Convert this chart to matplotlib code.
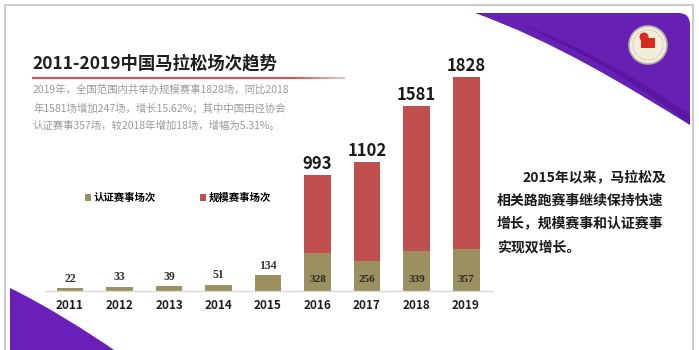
import numpy as np
import matplotlib
matplotlib.use('Agg')
import matplotlib.pyplot as plt
from matplotlib.patches import PathPatch, Circle, Rectangle
from matplotlib.path import Path
from matplotlib.collections import LineCollection

plt.rcParams['font.family'] = ['Noto Sans CJK SC', 'DejaVu Sans']

# data
years = ['2011', '2012', '2013', '2014', '2015', '2016', '2017', '2018', '2019']
certified = [22, 33, 39, 51, 134, 328, 256, 339, 357]
scale_total = [0, 0, 0, 0, 0, 993, 1102, 1581, 1828]
series_names = ['认证赛事场次', '规模赛事场次']

title = '2011-2019中国马拉松场次趋势'
intro_lines = ['2019年，全国范围内共举办规模赛事1828场，同比2018',
               '年1581场增加247场，增长15.62%；其中中国田径协会',
               '认证赛事357场，较2018年增加18场，增幅为5.31%。']
note_lines = ['2015年以来，马拉松及',
              '相关路跑赛事继续保持快速',
              '增长，规模赛事和认证赛事',
              '实现双增长。']

OLIVE = '#9b9060'
RED = '#c0504d'
W, H = 699, 350

fig = plt.figure(figsize=(W / 100, H / 100), dpi=100, facecolor='white')

# slide background and decorations, in pixel coords
bg = fig.add_axes([0, 0, 1, 1])
bg.set_xlim(0, W)
bg.set_ylim(H, 0)
bg.axis('off')

bg.add_patch(Rectangle((5, 5), 688, 360, facecolor='white', edgecolor='#cccccc', lw=1.5))

# top-right purple swoosh
verts = [(475, 13), (678, 13), (690, 13), (690, 25), (690, 125),
         (625, 85), (555, 42), (475, 13)]
codes = [Path.MOVETO, Path.LINETO, Path.CURVE3, Path.CURVE3, Path.LINETO,
         Path.CURVE4, Path.CURVE4, Path.CURVE4]
bg.add_patch(PathPatch(Path(verts, codes), facecolor='#6620b4', edgecolor='none'))
verts2 = [(520, 24), (600, 60), (660, 100), (690, 125), (690, 115), (640, 80), (580, 45), (520, 24)]
codes2 = [Path.MOVETO, Path.CURVE4, Path.CURVE4, Path.CURVE4,
          Path.LINETO, Path.CURVE4, Path.CURVE4, Path.CURVE4]
bg.add_patch(PathPatch(Path(verts2, codes2), facecolor='#520f96', edgecolor='none', alpha=0.6))

# logo
bg.add_patch(Circle((648, 45), 19, facecolor='#f2eedc', edgecolor='#b8b0a0', lw=1.2))
bg.add_patch(Circle((648, 45), 15, facecolor='none', edgecolor='#9a9a8a', lw=0.6, ls=':'))
bg.add_patch(Rectangle((641, 38), 14, 10, facecolor='#d9291f', edgecolor='none'))
bg.add_patch(Circle((644, 37), 4.5, facecolor='#d9291f', edgecolor='none'))

# bottom-left purple wedge
verts3 = [(10, 288), (45, 305), (85, 330), (117, 352), (10, 352), (10, 288)]
codes3 = [Path.MOVETO, Path.CURVE4, Path.CURVE4, Path.CURVE4, Path.LINETO, Path.CLOSEPOLY]
bg.add_patch(PathPatch(Path(verts3, codes3), facecolor='#6a1fb8', edgecolor='none'))

# header
bg.text(32, 63, title, fontsize=12.5, weight='bold', color='#1e1e1e', ha='left', va='center')
xs = np.linspace(32, 345, 40)
segs = [[(xs[k], 78), (xs[k + 1], 78)] for k in range(len(xs) - 1)]
red_rgb = np.array([0.76, 0.36, 0.36])
cols = []
for k in range(len(xs) - 1):
    f = 0.0 if xs[k] < 290 else (xs[k] - 290) / 55
    cols.append(tuple(red_rgb * (1 - f) + np.array([0.85, 0.85, 0.85]) * f))
bg.add_collection(LineCollection(segs, colors=cols, linewidths=1.6, capstyle='butt'))
for k, line in enumerate(intro_lines):
    bg.text(33, 90 + 18 * k, line, fontsize=7.5, color='#9a9a9a', ha='left', va='center')

# right note
for k, line in enumerate(note_lines):
    bg.text(522 if k == 0 else 497, 177 + 23.5 * k, line, fontsize=10, weight='bold',
            color='#1a1a1a', ha='left', va='center')

# chart
ax = fig.add_axes([45 / W, 59 / H, 447 / W, 231 / H])
ax.patch.set_alpha(0)
x = np.arange(len(years))
red_part = [t - c if t > 0 else 0 for t, c in zip(scale_total, certified)]
b1 = ax.bar(x, certified, width=0.545, color=OLIVE, zorder=2)
b2 = ax.bar(x, red_part, bottom=certified, width=0.545, color=RED, zorder=2)

for i in range(len(years)):
    if scale_total[i] > 0:
        ax.annotate(str(scale_total[i]), (x[i], scale_total[i]), xytext=(0, 1.5),
                    textcoords='offset points', ha='center', va='bottom',
                    fontsize=12, weight='bold', color='#1a1a1a')
        ax.annotate(str(certified[i]), (x[i], 0), xytext=(0, 8),
                    textcoords='offset points', ha='center', va='center',
                    fontsize=8, weight='bold', family='Liberation Serif', color='#2a2a20')
    else:
        ax.annotate(str(certified[i]), (x[i], certified[i]), xytext=(0, 7),
                    textcoords='offset points', ha='center', va='center',
                    fontsize=8.5, weight='bold', family='Liberation Serif', color='#333333')

ax.set_xlim(-0.505, 8.525)
ax.set_ylim(0, 231 / 0.117)
ax.set_xticks(x, years, fontsize=8.5, weight='bold', color='#1e1e1e')
ax.tick_params(axis='x', length=0, pad=6)
ax.set_yticks([])
for s in ['left', 'top', 'right']:
    ax.spines[s].set_visible(False)
ax.spines['bottom'].set_color('#d9d9d9')
ax.spines['bottom'].set_linewidth(1)

ax.legend([b1, b2], series_names, ncol=2, frameon=False, handlelength=0.55,
          handleheight=0.55, handletextpad=0.3, columnspacing=4.2,
          prop={'size': 7.5, 'weight': 'bold'}, loc='center left',
          bbox_to_anchor=(85 / W, 1 - 198 / H), bbox_transform=fig.transFigure,
          borderaxespad=0, borderpad=0)

fig.savefig('out.png', dpi=100, facecolor='white')
